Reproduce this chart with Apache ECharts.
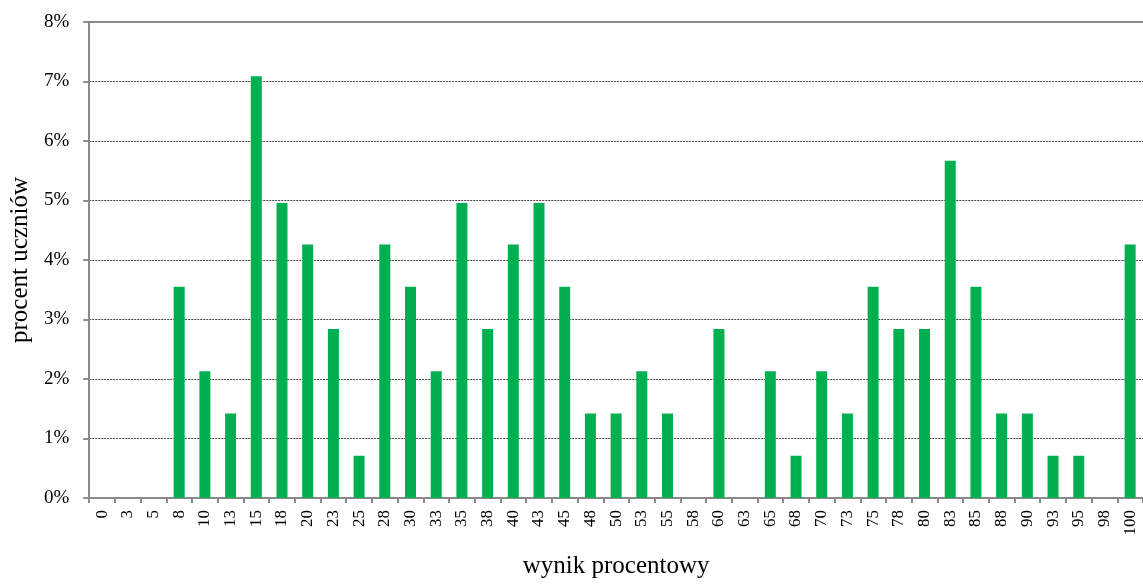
<!DOCTYPE html>
<html><head><meta charset="utf-8">
<script src="https://cdn.jsdelivr.net/npm/echarts@6/dist/echarts.min.js"></script>
<style>html,body{margin:0;padding:0;background:#fff}#c{width:1143px;height:584px}</style>
</head><body><div id="c"></div>
<script>
const categories = ['0','3','5','8','10','13','15','18','20','23','25','28','30','33','35','38','40','43','45','48','50','53','55','58','60','63','65','68','70','73','75','78','80','83','85','88','90','93','95','98','100'];
const percentStudents = [0,0,0,3.55,2.13,1.42,7.09,4.96,4.26,2.84,0.71,4.26,3.55,2.13,4.96,2.84,4.26,4.96,3.55,1.42,1.42,2.13,1.42,0,2.84,0,2.13,0.71,2.13,1.42,3.55,2.84,2.84,5.67,3.55,1.42,1.42,0.71,0.71,0,4.26];
const yTicks = [0,1,2,3,4,5,6,7,8];

const font = 'Liberation Serif, Times New Roman, serif';
const axisGray = '#8a8a8a';
const chart = echarts.init(document.getElementById('c'));
chart.setOption({
  animation: false,
  grid: {left: 89, top: 22, bottom: 83, right: -6, containLabel: false},
  xAxis: [{
    type: 'category', data: categories, position: 'bottom',
    name: 'wynik procentowy', nameLocation: 'middle', nameGap: 56,
    nameTextStyle: {fontFamily: font, fontSize: 25, color: '#000'},
    axisLine: {lineStyle: {color: axisGray, width: 2}},
    axisTick: {show: true, alignWithLabel: false, length: 5, lineStyle: {color: axisGray, width: 2}},
    axisLabel: {rotate: 90, interval: 0, margin: 12, fontFamily: font, fontSize: 17, color: '#000'},
  }, {
    type: 'category', data: categories, position: 'top',
    axisLine: {show: true, lineStyle: {color: axisGray, width: 2}},
    axisTick: {show: false}, axisLabel: {show: false}
  }],
  yAxis: {
    type: 'value', min: yTicks[0], max: yTicks[yTicks.length-1], interval: 1,
    name: 'procent uczniów', nameLocation: 'middle', nameGap: 53,
    nameTextStyle: {fontFamily: font, fontSize: 25, color: '#000'},
    axisLine: {show: true, lineStyle: {color: axisGray, width: 2}},
    axisTick: {show: true, length: 6, lineStyle: {color: axisGray, width: 2}},
    axisLabel: {margin: 20, fontFamily: font, fontSize: 19, color: '#000', formatter: v => v + '%'},
    splitLine: {show: true, lineStyle: {color: '#444', width: 1, type: [2, 1]}}
  },
  series: [{
    type: 'bar', data: percentStudents, barWidth: 11,
    itemStyle: {color: '#00B050'}
  }]
});
</script></body></html>
